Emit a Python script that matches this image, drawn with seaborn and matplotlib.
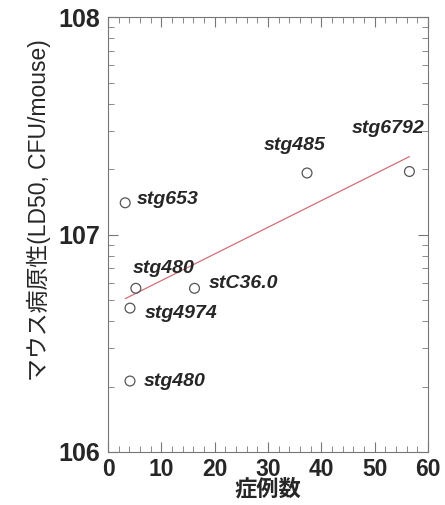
import numpy as np
import matplotlib
matplotlib.use("Agg")
import matplotlib.pyplot as plt
import seaborn as sns
from matplotlib.ticker import FixedLocator, LogLocator, MultipleLocator, NullFormatter

sns.set_theme(style="ticks")
plt.rcParams["font.family"] = ["Liberation Sans", "Noto Sans CJK JP", "DejaVu Sans"]

# strains: number of cases vs mouse LD50
strains = ["stg653", "stg485", "stg6792", "stg480", "stC36.0", "stg4974", "stg480"]
cases = [3.2, 37.3, 56.5, 5.2, 16.2, 4.1, 4.1]
ld50 = [1.40e7, 1.92e7, 1.95e7, 5.66e6, 5.66e6, 4.59e6, 2.12e6]
# label offsets in pixels (dx, dy, ha)
label_pos = [(12, 3, "left"), (-12, 27, "center"), (-21, 43, "center"),
             (-3, 20, "left"), (14, 5, "left"), (15, -5, "left"), (14, 0, "left")]
yticks = [1e6, 1e7, 1e8]
ytick_labels = ["106", "107", "108"]

fig, ax = plt.subplots(figsize=(4.45, 5.05), dpi=100)
fig.subplots_adjust(left=0.243, right=0.962, bottom=0.105, top=0.966)

sns.scatterplot(x=cases, y=ld50, ax=ax, marker="o", s=50,
                facecolors="none", edgecolor="#555555", linewidth=0.9, zorder=3)

# regression of log10(LD50) on cases
slope, icpt = np.polyfit(cases, np.log10(ld50), 1)
xs = np.array([min(cases), max(cases)])
sns.lineplot(x=xs, y=10 ** (icpt + slope * xs), ax=ax, color="#d0707a", linewidth=0.9)

for name, x, y, (dx, dy, ha) in zip(strains, cases, ld50, label_pos):
    ax.annotate(name, (x, y), xytext=(dx, dy), textcoords="offset pixels",
                ha=ha, va="center", fontsize=14, fontweight="bold", fontstyle="italic")

ax.set_yscale("log")
ax.set_xlim(0, 60)
ax.set_ylim(1e6, 1e8)
ax.xaxis.set_major_locator(MultipleLocator(10))
ax.xaxis.set_minor_locator(MultipleLocator(2))
ax.yaxis.set_major_locator(FixedLocator(yticks))
ax.set_yticklabels(ytick_labels)
ax.yaxis.set_minor_locator(LogLocator(base=10, subs=np.arange(2, 10)))
ax.yaxis.set_minor_formatter(NullFormatter())

ax.tick_params(axis="both", which="both", direction="in", top=True, right=True,
               color="#777777")
ax.tick_params(axis="both", which="major", length=7, width=0.8)
ax.tick_params(axis="both", which="minor", length=4, width=0.6)
ax.tick_params(axis="y", which="major", labelsize=18, pad=6)
ax.tick_params(axis="x", which="major", labelsize=16.5, pad=4)
for lab in ax.get_xticklabels() + ax.get_yticklabels():
    lab.set_fontweight("bold")
for sp in ax.spines.values():
    sp.set_color("#777777")
    sp.set_linewidth(0.8)

ax.set_xlabel("症例数", fontsize=16, fontweight="bold", labelpad=-1)
ax.set_ylabel("マウス病原性(LD50, CFU/mouse)", fontsize=16.5)
ax.yaxis.set_label_coords(-0.18, 0.556)

fig.savefig("out.png", dpi=100)
